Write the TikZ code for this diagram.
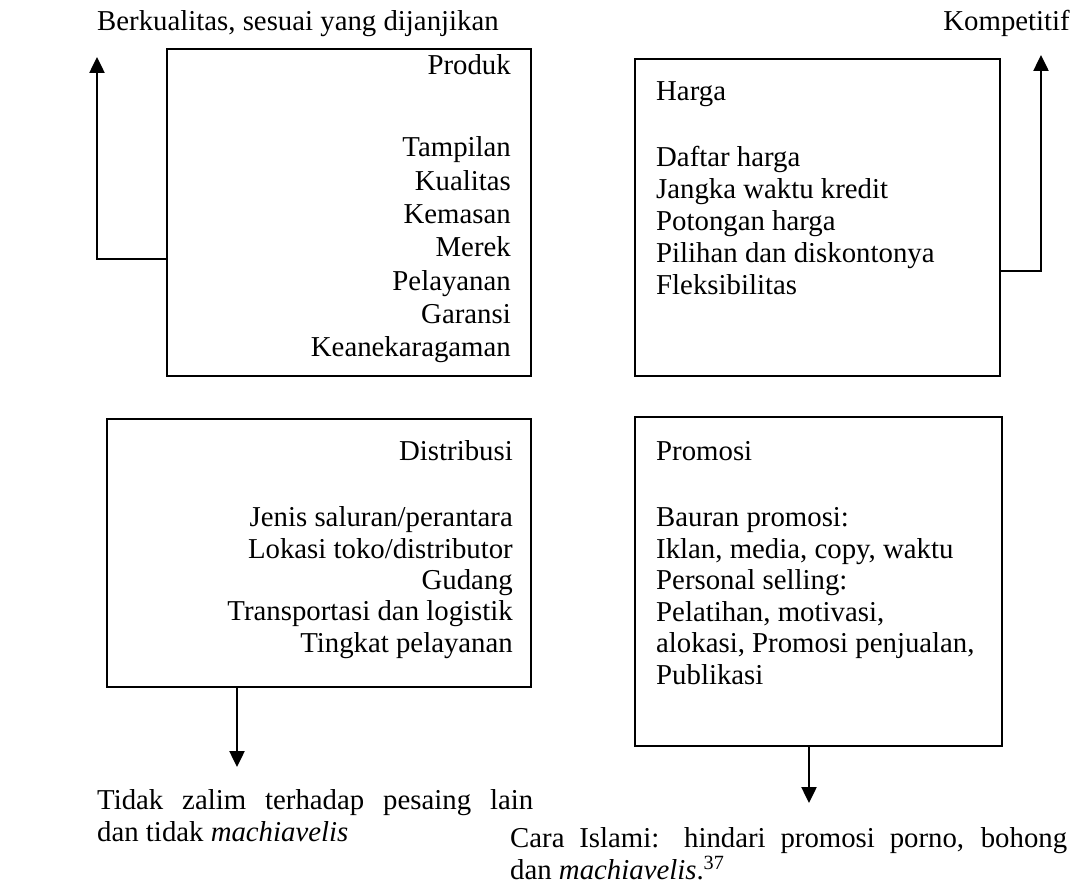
\documentclass[tikz,border=0pt]{standalone}
\usepackage{fontspec}
\setmainfont{Liberation Serif}
\usetikzlibrary{arrows.meta}

\begin{document}
\begin{tikzpicture}[x=1pt,y=-1pt,
  box/.style n args={2}{draw,line width=2.2pt,minimum width=#1pt,minimum height=#2pt,inner sep=0pt},
  txt/.style={inner sep=0pt,font=\fontsize{28.8}{33}\selectfont},
  link/.style={line width=2.5pt,-{Triangle[width=15pt,length=16pt]}}]
\useasboundingbox (0,0) rectangle (1080,890);
% boxes
\node[box={364}{327}](produk) at (349,212.5) {};
\node[box={365}{317}](harga) at (817.5,217.5) {};
\node[box={424}{268}](distribusi) at (319,553) {};
\node[box={367}{329}](promosi) at (818.5,581.5) {};
% titles
\node[txt,anchor=base east](produkTitle) at (511,75) {Produk};
\node[txt,anchor=base west](hargaTitle) at (656,101) {Harga};
\node[txt,anchor=base east](distribusiTitle) at (513,461) {Distribusi};
\node[txt,anchor=base west](promosiTitle) at (656,461) {Promosi};
% lists
\foreach \t [count=\i from 0] in %
{Tampilan,Kualitas,Kemasan,Merek,Pelayanan,Garansi,Keanekaragaman} {
   \node[txt,anchor=base east](produkItem\i) at (511,157+33.3*\i) {\t};
}
\foreach \t [count=\i from 0] in %
{Daftar harga,Jangka waktu kredit,Potongan harga,Pilihan dan diskontonya,Fleksibilitas} {
   \node[txt,anchor=base west](hargaItem\i) at (656,167+32*\i) {\t};
}
\foreach \t [count=\i from 0] in %
{Jenis saluran/perantara,Lokasi toko/distributor,Gudang,Transportasi dan logistik,Tingkat pelayanan} {
   \node[txt,anchor=base east](distribusiItem\i) at (513,527+31.3*\i) {\t};
}
\foreach \t [count=\i from 0] in %
{Bauran promosi:,{Iklan, media, copy, waktu},Personal selling:,{Pelatihan, motivasi,},{alokasi, Promosi penjualan,},Publikasi} {
   \node[txt,anchor=base west](promosiItem\i) at (656,527+31.4*\i) {\t};
}
% outer labels
\node[txt,anchor=base west](kualitasLabel) at (97,31) {Berkualitas, sesuai yang dijanjikan};
\node[txt,anchor=base east](hargaLabel) at (1070,31) {Kompetitif};
\node[txt,anchor=base west](zalimLine1) at (97,809) {\makebox[436pt][s]{Tidak zalim terhadap pesaing lain}};
\node[txt,anchor=base west](zalimLine2) at (97,841) {dan tidak \textit{machiavelis}};
\node[txt,anchor=base west](islamiLine1) at (510,847) {\makebox[557pt][s]{Cara Islami: hindari promosi porno, bohong}};
\node[txt,anchor=base west](islamiLine2) at (510,879) {dan \textit{machiavelis}.\textsuperscript{37}};
% connectors
\coordinate (kualitasBend) at (97,259);
\coordinate (kualitasTip) at (97,57);
\coordinate (hargaBend) at (1041,271);
\coordinate (hargaTip) at (1041,55);
\coordinate (zalimTip) at (237,767);
\coordinate (islamiTip) at (809,803);
\draw[link] (produk.west |- kualitasBend) -- (kualitasBend) -- (kualitasTip);
\draw[link] (harga.east |- hargaBend) -- (hargaBend) -- (hargaTip);
\draw[link] (distribusi.south -| zalimTip) -- (zalimTip);
\draw[link] (promosi.south -| islamiTip) -- (islamiTip);
\end{tikzpicture}
\end{document}
